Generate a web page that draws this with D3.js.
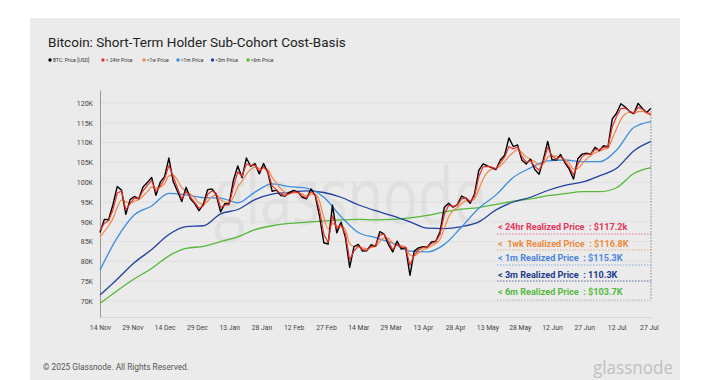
<!DOCTYPE html>
<html>
<head>
<meta charset="utf-8">
<script src="https://cdn.jsdelivr.net/npm/d3@7"></script>
<style>
  body { margin: 0; background: #fff; }
  svg { display: block; font-family: Roboto, "Noto Sans", sans-serif; }
  text { white-space: pre; }
</style>
</head>
<body>
<script>
// values in thousands of USD
var startDate = Date.UTC(2024, 10, 14);
var endDate = Date.UTC(2025, 6, 28);
var fastStep = 2;   // days between points for price / 24h / 1w
var slowStep = 8;   // days between points for 1m / 3m / 6m

var btcPrice = [87.3,90.6,90.5,94.3,98.9,98.0,91.9,95.6,96.4,95.8,98.8,99.9,101.2,96.7,100.0,101.4,106.1,100.2,97.7,95.1,
  98.7,95.8,94.6,92.8,94.4,98.1,98.3,96.9,92.5,94.6,94.5,100.5,104.1,101.1,106.1,104.0,104.7,102.1,104.7,102.4,
  97.7,98.0,96.6,96.5,97.4,97.9,97.5,96.2,95.8,98.3,96.6,91.4,84.7,84.4,94.2,87.2,89.9,86.1,78.5,83.7,
  84.3,82.6,82.7,84.2,83.8,87.5,86.9,84.3,82.4,85.1,83.1,83.5,76.5,82.6,83.4,83.7,83.6,84.9,85.1,87.5,
  93.7,94.7,93.7,94.3,96.5,96.0,94.7,97.0,103.0,104.6,104.1,103.7,103.2,105.6,106.8,111.2,109.0,109.4,105.6,104.6,
  105.8,103.2,102.0,105.7,110.3,105.7,105.6,107.0,104.9,103.3,100.8,105.9,107.1,107.3,107.1,108.8,108.0,109.2,108.9,116.0,
  117.4,119.8,119.0,117.9,117.3,119.9,118.6,117.6,118.7];

var price24h = [87.8,89.6,90.3,93.0,97.2,97.8,93.0,94.6,96.0,95.9,97.8,99.2,100.4,97.6,99.0,100.8,104.2,101.5,98.5,95.8,
  97.6,96.2,94.9,93.4,94.0,96.9,97.8,97.2,93.6,94.2,94.3,98.8,102.6,101.5,104.6,104.2,104.3,102.8,103.8,102.7,
  99.0,98.1,97.0,96.6,97.1,97.6,97.4,96.5,96.0,97.6,96.9,93.0,86.8,84.8,91.5,88.3,89.2,86.9,80.4,82.6,
  83.8,83.0,82.8,83.8,83.9,86.6,86.9,85.0,83.0,84.3,83.6,83.4,79.0,81.6,82.9,83.5,83.6,84.5,85.0,86.8,
  91.9,94.2,93.9,94.2,95.8,96.1,95.1,96.4,101.4,103.9,104.0,103.8,103.4,104.9,106.3,109.0,108.4,108.9,106.5,105.0,
  105.4,104.0,103.0,105.1,108.8,106.6,105.8,106.5,105.3,103.8,101.9,104.5,106.5,107.1,107.1,108.3,108.2,108.8,108.9,114.0,
  116.6,118.6,118.7,118.0,117.4,118.9,118.4,117.6,117.2];

var price1w = [86.2,87.5,89.0,90.8,93.6,95.5,95.0,94.8,95.2,95.6,96.5,97.6,98.8,98.5,98.8,99.6,101.6,101.8,100.5,98.6,
  97.8,97.0,96.0,94.8,94.4,95.2,96.3,96.8,95.6,95.0,94.8,96.2,98.8,100.2,102.0,103.2,103.8,103.5,103.6,103.2,
  101.2,99.8,98.3,97.4,97.1,97.3,97.4,97.0,96.5,96.9,97.0,95.2,91.0,88.2,89.6,88.9,89.0,88.0,84.5,83.8,
  83.8,83.4,83.2,83.5,83.8,85.0,86.0,85.8,84.6,84.3,84.0,83.6,81.6,81.4,82.2,82.9,83.3,83.9,84.5,85.6,
  88.4,91.2,92.8,93.6,94.6,95.3,95.3,95.8,98.2,100.8,102.5,103.3,103.5,104.1,105.2,106.5,107.5,108.2,107.5,106.4,
  105.8,105.2,104.4,104.6,106.3,106.8,106.5,106.3,105.8,104.8,103.3,103.5,104.6,105.8,106.7,107.4,107.8,108.3,108.6,111.0,
  113.5,115.8,117.2,117.6,117.4,117.8,117.9,117.5,116.8];

var price1m = [77.8,86.0,91.8,94.0,97.2,96.8,96.1,96.0,94.8,97.5,99.6,98.9,98.5,96.2,91.3,87.3,86.0,84.6,82.6,82.4,
  84.3,88.7,93.4,96.8,101.2,103.6,105.4,105.6,105.2,105.2,108.1,113.8,115.3];
var price3m = [71.5,75.5,79.7,83.0,86.8,88.8,89.0,92.0,93.1,95.6,97.0,97.4,97.8,97.4,96.2,94.3,92.8,91.5,90.0,88.4,
  88.3,88.8,90.0,93.0,95.0,96.2,97.9,99.2,100.0,101.6,103.5,107.9,110.3];
var price6m = [69.4,72.6,75.6,78.2,81.4,83.3,83.8,85.0,86.2,88.0,89.0,89.6,89.9,90.2,90.5,90.6,90.5,90.6,91.0,91.6,
  92.5,93.2,93.6,94.4,95.2,95.8,96.6,97.1,97.6,97.6,98.6,102.2,103.7];

var yTicks = [70, 75, 80, 85, 90, 95, 100, 105, 110, 115, 120];
var xTickLabels = ["14 Nov","29 Nov","14 Dec","29 Dec","13 Jan","28 Jan","12 Feb","27 Feb","14 Mar",
  "29 Mar","13 Apr","28 Apr","13 May","28 May","12 Jun","27 Jun","12 Jul","27 Jul"];
var legendLabels = ["BTC: Price [USD]", "< 24hr Price", "<1w Price", "<1m Price", "<3m Price", "<6m Price"];
var calloutLabels = ["< 24hr Realized Price  : $117.2k", "<  1wk Realized Price  : $116.8K",
  "< 1m Realized Price  : $115.3K", "< 3m Realized Price  : 110.3K", "< 6m Realized Price  : $103.7K"];

var lineColors = ["#000000", "#e8312c", "#f08848", "#3b8ee3", "#2241a3", "#55b83a"];
var calloutColors = ["#e6345c", "#ee8a3c", "#4c85df", "#1d3a8c", "#55b940"];

var W = 720, H = 380;
var svg = d3.select("body").append("svg").attr("width", W).attr("height", H);

// panel
svg.append("rect").attr("x", 30).attr("y", 18).attr("width", 650).attr("height", 362).attr("fill", "#ebebeb");

svg.append("text").attr("x", 48).attr("y", 47).attr("font-size", 13.5).attr("fill", "#222")
  .text("Bitcoin: Short-Term Holder Sub-Cohort Cost-Basis");

// legend
var legX = [50, 103, 144, 178, 212.5, 248];
legendLabels.forEach(function(l, i) {
  svg.append("circle").attr("cx", legX[i]).attr("cy", 60).attr("r", 1.7).attr("fill", lineColors[i]);
  svg.append("text").attr("x", legX[i] + 3).attr("y", 62).attr("font-size", 5).attr("fill", "#333").text(l);
});

var x = d3.scaleUtc().domain([startDate, endDate]).range([100, 651]);
var y = d3.scaleLinear().domain([65.96, 123.28]).range([317, 90]);

// watermark
svg.append("text").attr("x", 214).attr("y", 224).attr("font-size", 78).attr("font-family", "Open Sans")
  .attr("textLength", 272).attr("lengthAdjust", "spacingAndGlyphs")
  .attr("fill", "#e0e0e0").text("glassnode");

// grid
svg.append("g").selectAll("line").data(yTicks).enter().append("line")
  .attr("x1", 100).attr("x2", 652)
  .attr("y1", function(d) { return y(d); }).attr("y2", function(d) { return y(d); })
  .attr("stroke", "#dddddd").attr("stroke-width", 0.8);

var yAxis = svg.append("g").attr("transform", "translate(100,0)")
  .call(d3.axisLeft(y).tickValues(yTicks).tickSize(0).tickPadding(7).tickFormat(function(d) { return d + "K"; }));
yAxis.select(".domain").attr("stroke", "#999");
yAxis.selectAll("text").attr("font-size", 7).attr("fill", "#444").attr("font-family", "Roboto");

var xTicks = xTickLabels.map(function(l, i) { return d3.utcDay.offset(new Date(startDate), 15 * i); });
var xAxis = svg.append("g").attr("transform", "translate(0,317)")
  .call(d3.axisBottom(x).tickValues(xTicks).tickSize(0).tickPadding(8)
    .tickFormat(function(d, i) { return xTickLabels[i]; }));
xAxis.select(".domain").attr("stroke", "#d4d4d4");
xAxis.selectAll("text").attr("font-size", 6.8).attr("fill", "#444").attr("font-family", "Roboto");

function toPoints(vals, step) {
  return vals.map(function(v, i) { return { date: d3.utcDay.offset(new Date(startDate), i * step), value: v }; });
}

var series = [
  { vals: price6m, step: slowStep, color: lineColors[5], w: 1.3, curve: d3.curveMonotoneX },
  { vals: price3m, step: slowStep, color: lineColors[4], w: 1.3, curve: d3.curveMonotoneX },
  { vals: price1m, step: slowStep, color: lineColors[3], w: 1.3, curve: d3.curveMonotoneX },
  { vals: price1w, step: fastStep, color: lineColors[2], w: 1.2, curve: d3.curveMonotoneX },
  { vals: btcPrice, step: fastStep, color: lineColors[0], w: 1.4, curve: d3.curveLinear },
  { vals: price24h, step: fastStep, color: lineColors[1], w: 1.2, curve: d3.curveLinear }
];

series.forEach(function(s) {
  var line = d3.line().curve(s.curve)
    .x(function(d) { return x(d.date); })
    .y(function(d) { return y(d.value); });
  svg.append("path").datum(toPoints(s.vals, s.step))
    .attr("fill", "none").attr("stroke", s.color).attr("stroke-width", s.w)
    .attr("stroke-linejoin", "round").attr("d", line);
});

// callout box
var endX = x(endDate);
svg.append("line").attr("x1", endX).attr("x2", endX).attr("y1", y(btcPrice[btcPrice.length - 1])).attr("y2", 300)
  .attr("stroke", "#888").attr("stroke-width", 1).attr("stroke-dasharray", "1.5,1.5");

var calloutY = [230, 246.5, 261, 277.5, 295];
var underY = [234, 250, 265, 281, 300];
calloutLabels.forEach(function(l, i) {
  svg.append("line").attr("x1", 497).attr("x2", endX).attr("y1", underY[i]).attr("y2", underY[i])
    .attr("stroke", i === 4 ? "#999" : calloutColors[i]).attr("stroke-width", 0.8)
    .attr("stroke-dasharray", "1.5,1.5").attr("opacity", 0.8);
  svg.append("text").attr("x", 498).attr("y", calloutY[i]).attr("font-size", 9.1).attr("font-weight", "bold")
    .attr("fill", calloutColors[i]).text(l);
});

// footer
svg.append("text").attr("x", 43).attr("y", 370).attr("font-size", 8.3).attr("fill", "#555")
  .text("© 2025 Glassnode. All Rights Reserved.");
svg.append("text").attr("x", 593).attr("y", 374).attr("font-size", 19).attr("font-family", "Open Sans")
  .attr("textLength", 80).attr("lengthAdjust", "spacingAndGlyphs")
  .attr("fill", "#c0c0c0").text("glassnode");
</script>
</body>
</html>
